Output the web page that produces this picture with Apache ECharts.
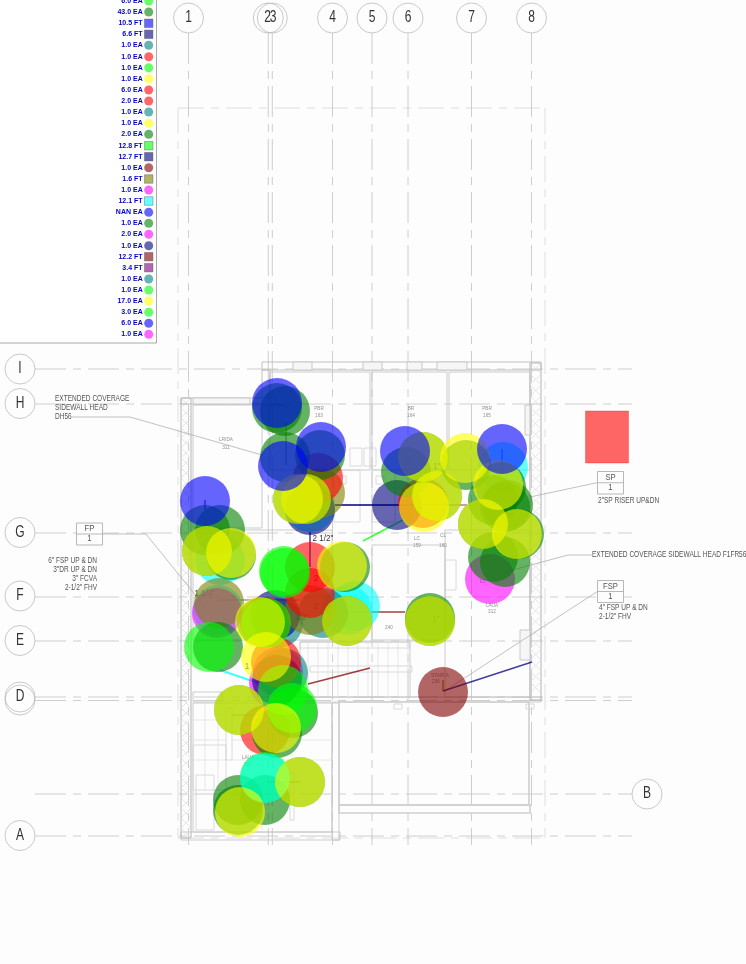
<!DOCTYPE html>
<html><head><meta charset="utf-8">
<style>html,body{margin:0;padding:0;background:#fdfdfd}#c{width:746px;height:964px}</style>
<script src="https://cdn.jsdelivr.net/npm/echarts@6/dist/echarts.min.js"></script>
</head><body><div id="c"></div>
<script>
// ---------- palette ----------
const G='#008000',L='#00ff00',B='#0000ff',N='#000080',T='#008080',R='#ff0000',Y='#ffff00',M='#ff00ff',C='#00ffff',O='#808000',W='#800000',P='#800080';
// ---------- takeoff legend ----------
const legendLabels=['6.0 EA','43.0 EA','10.5 FT','6.6 FT','1.0 EA','1.0 EA','1.0 EA','1.0 EA','6.0 EA','2.0 EA','1.0 EA','1.0 EA','2.0 EA','12.8 FT','12.7 FT','1.0 EA','1.6 FT','1.0 EA','12.1 FT','NAN EA','1.0 EA','2.0 EA','1.0 EA','12.2 FT','3.4 FT','1.0 EA','1.0 EA','17.0 EA','3.0 EA','6.0 EA','1.0 EA'];
const legendColors=[L,G,B,N,T,R,L,Y,R,R,T,Y,G,L,N,W,O,M,C,B,G,M,N,W,P,T,L,Y,L,B,M];
const legendShapes=['c','c','s','s','c','c','c','c','c','c','c','c','c','s','s','c','s','c','s','c','c','c','c','s','s','c','c','c','c','c','c'];
const legendY=[1,12,23.3,34.3,45.3,56.7,67.7,78.7,90,101,112,123.3,134.3,145.7,156.7,167.7,179,190,201,212.3,223.3,234.3,245.7,256.7,267.7,279,290,301,312.3,323.3,334.3];
// ---------- markups (bubbles), in drawing order ----------
const bubbleX=[
 310,503,220,218,347,355, 217,278,274,490, 278,323,283, 310,397,275,277, 310,219,320,
 310,310,265,276,265,423,318, 443,
 285,277,285,320,306,298,406,423,466,437,501,505,508,493,483,519,493,505,205,220,207,231,345,262,347,430,430,218,293,277,239,300,265,238,238,
 284,285,209,283,292,266,265, 265,
 298,306,423,465,437,424,498,483,517,207,231,342,260,347,430,266,239,276,300,240,
 277,321,283,405,502,205];
const bubbleY=[
 507,467,560,610,610,606, 613,672,683,579, 623,613,673, 510,505,615,680, 610,603,493,
 567,593,622,662,730,503,478, 692,
 411,408,457,455,499,499,472,457,465,496,487,507,505,500,524,534,557,562,530,530,551,555,567,622,621,618,621,647,713,733,710,782,800,800,810,
 571,573,647,690,708,623,777, 778,
 499,499,457,458,496,507,485,524,534,551,553,566,622,621,621,657,710,728,782,812,
 403,447,466,451,449,501];
const bubbleColors=[
 C,C,C,C,C,C, M,M,M,M, T,T,T, N,N,N,N, O,O,O,
 R,R,R,R,R,R,R, W,
 G,G,G,G,G,G,G,G,G,G,G,G,G,G,G,G,G,G,G,G,G,G,G,G,G,G,G,G,G,G,G,G,G,G,G,
 L,L,L,L,L,L,L, C,
 Y,Y,Y,Y,Y,Y,Y,Y,Y,Y,Y,Y,Y,Y,Y,Y,Y,Y,Y,Y,
 B,B,B,B,B,B];
const squareMark=[607,437,43,52];
// ---------- grid axes ----------
const colLabels=['1','2','3','','4','5','6','7','8'];
const colX=[188.5,268.3,272.3,270,332.5,372,408,471.5,531.5];
const colTextX=[188.5,267.5,273,270,332.5,372,408,471.5,531.5];
const rowLabels=['I','H','G','F','E','D','','A','B'];
const rowX=[20,20,20,20,20,20,20,20,647];
const rowY=[369,403.5,532.5,596,640.5,697,700,835.5,794];
// ---------- drawing segments: x1,y1,x2,y2 ----------
const outerDashed=[[178,108,545,108],[178,108,178,838],[545,108,545,838],[178,838,545,838]];
const gridSegs=[[35,794,632,794],[35,369,632,369],[35,404,632,404],[35,533,632,533],[35,597,632,597],[35,641,632,641],[35,697,632,697],[35,700.5,632,700.5],[35,836,632,836],
 [188.5,33,188.5,845],[268.3,33,268.3,845],[272.3,33,272.3,845],[332.5,33,332.5,845],[372,33,372,845],[408,33,408,845],[471.5,33,471.5,845],[531.5,33,531.5,845]];
const leaderSegs=[[72,417,130,417],[130,417,262,455],[85,534,146,534],[146,534,205,607],[597,482.7,530,497],[592,555,568,555],[568,555,505,572],[597,591.7,443,692]];
const wallBands=[[181,398,191,838],[530,363,541,700]];
const wallRects=[[262,362,541,370],[181,398,262,404],[262,370,270,398]];
const windowRects=[[293,362,312,370],[363,362,382,370],[407,362,422,370],[437,362,467,370],[193,398,250,404],[525,405,530,435],[520,630,530,660]];
const thinRects=[[193,405,262,528],[270,372,370,470],[372,372,447,470],[449,372,530,470],[193,530,332,640],[372,545,445,640],[445,530,530,697],[300,642,410,697],
 [193,703,332,832],[181,832,340,840],[332,703,339,840],[262,697,541,702],[193,692,222,702]];
const porchRects=[[339,702,529,805],[339,805,530,813]];
const fixtureRects=[[339,476,346,484],[376,476,384,484],[350,448,362,466],[364,448,376,466],[394,704,402,709],[526,704,534,709],[196,775,214,830],[193,745,226,790],[445,560,456,590],
 [300,642,410,648],[310,666,412,672],[226,708,232,760],[290,772,294,820],[334,470,360,522],[372,470,395,522]];
const stairSegs=[[308,642,308,697],[318,642,318,697],[328,642,328,697],[338,642,338,697],[348,642,348,697],[358,642,358,697],[368,642,368,697],[378,642,378,697],[388,642,388,697],[398,642,398,697],[408,642,408,697],
 [193,720,226,720],[193,740,226,740],[193,760,226,760],[205,703,205,790],[218,703,218,790],[232,760,332,760],[232,740,332,740],[262,703,262,830]];
const pipeSegs=[[335,505,400,505,N,1.8],[400,505,467,505,W,1.2],[363,541,403,520,L,1.6],[310,532,310,567,N,1.5],[372,612,405,612,W,1.6],[308,684,370,668,W,1.6],[220,670,258,683,C,2],[443,691,532,662,N,1.6],[443,680,443,691,O,1.5],[502,449,502,470,N,1.2],[205,500,205,510,N,1.2],[320,612,372,612,O,1.2],[232,715,262,715,O,1],[300,782,268,782,O,1.2],[219,600,300,600,N,.8],[270,405,285,405,N,.8],[286,422,286,465,G,1]];
// ---------- annotations ----------
const noteTexts=['EXTENDED COVERAGE','SIDEWALL HEAD','DH56','6" FSP UP & DN','3"DR UP & DN','3" FCVA','2-1/2" FHV','2"SP RISER UP&DN','EXTENDED COVERAGE SIDEWALL HEAD F1FR56','4" FSP UP & DN','2-1/2" FHV'];
const noteX=[55,55,55,97,97,97,97,598,592,599,599];
const noteY=[399,408,417,561,570,579,588,501,555,608,617];
const noteAlign=['left','left','left','right','right','right','right','left','left','left','left'];
const tagTexts=['FP','1','SP','1','FSP','1'];
const tagX=[89.5,89.5,610.5,610.5,610.5,610.5];
const tagY=[529,539,477.5,487.5,586.5,596.5];
const tagBoxes=[[76.5,523,102.5,545],[597.5,471.5,623.5,494],[597.5,580.5,623.5,602.5]];
const sizeTexts=['2 1/2"','1 1/4"','2','2','1','1"','1"','1/2"'];
const sizeX=[323,205,316,316,247,436,437,302];
const sizeY=[538,593,578,606,666,619,466,617];
const roomTexts=['LR/DA','311','PBR','163','BR','164','PBR','165','LC','159','CL','160','STAIR A','236','LAUA','312','LAUA','310','240','EC'];
const roomX=[226,226,319,319,411,411,487,487,417,417,443,443,440,436,492,492,248,248,389,483];
const roomY=[439,447,408,415,408,415,408,415,538,545,535,545,675,681,605,611,757,764,627,581];

const FONT='Liberation Sans, sans-serif';
function segSeries(data,color,width,dash,z,name){return {type:'custom',name,coordinateSystem:'cartesian2d',silent:true,z,
 encode:{x:[0,2],y:[1,3]},data,clip:false,
 renderItem:(p,api)=>{const a=api.coord([api.value(0),api.value(1)]),b=api.coord([api.value(2),api.value(3)]);
  return {type:'line',shape:{x1:a[0],y1:a[1],x2:b[0],y2:b[1]},style:{stroke:color,lineWidth:width,lineDash:dash||null,fill:null}};}};}
function rectSeries(data,stroke,width,fill,z,name){return {type:'custom',name,coordinateSystem:'cartesian2d',silent:true,z,
 encode:{x:[0,2],y:[1,3]},data,clip:false,
 renderItem:(p,api)=>{const a=api.coord([api.value(0),api.value(1)]),b=api.coord([api.value(2),api.value(3)]);
  return {type:'rect',shape:{x:a[0],y:a[1],width:b[0]-a[0],height:b[1]-a[1]},style:{stroke,lineWidth:width,fill:fill||'rgba(0,0,0,0)'}};}};}
function bandSeries(data){return {type:'custom',name:'walls',coordinateSystem:'cartesian2d',silent:true,z:3,
 encode:{x:[0,2],y:[1,3]},data,clip:false,
 renderItem:(p,api)=>{const a=api.coord([api.value(0),api.value(1)]),b=api.coord([api.value(2),api.value(3)]);
  const w=b[0]-a[0],h=b[1]-a[1],kids=[{type:'rect',shape:{x:a[0],y:a[1],width:w,height:h},style:{stroke:'#b4b4b4',lineWidth:1,fill:'rgba(0,0,0,0)'}}];
  for(let s=0;s+w<=h;s+=w){ // wall insulation hatch
    const y0=a[1]+s;
    kids.push({type:'line',shape:{x1:a[0],y1:y0,x2:a[0]+w,y2:y0+w},style:{stroke:'#d6d6d6',lineWidth:.6}});
    kids.push({type:'line',shape:{x1:a[0]+w,y1:y0,x2:a[0],y2:y0+w},style:{stroke:'#d6d6d6',lineWidth:.6}});
  }
  return {type:'group',children:kids};}};}
function textSeries(xs,ys,texts,size,color,aligns,z,name,scale,weight){return {type:'custom',name,coordinateSystem:'cartesian2d',silent:true,z,clip:false,
 encode:{x:0,y:1},data:texts.map((t,i)=>[xs[i],ys[i]]),
 renderItem:(p,api)=>{const a=api.coord([api.value(0),api.value(1)]),i=p.dataIndex;
  return {type:'text',x:a[0],y:a[1],scaleX:scale||1,style:{text:texts[i],x:0,y:0,textAlign:aligns?aligns[i]:'center',textVerticalAlign:'middle',fontFamily:FONT,fontSize:size,fontWeight:weight||'normal',fill:color}};}};}
const gridCircle=(xs,ys,name)=>({type:'scatter',name,silent:true,z:4,symbolSize:30,clip:false,itemStyle:{color:'rgba(0,0,0,0)',borderColor:'#b4b4b4',borderWidth:.9},data:xs.map((x,i)=>[x,ys[i]])});

const option={animation:false,backgroundColor:'#fdfdfd',
 grid:{left:0,right:0,top:0,bottom:0},
 xAxis:{type:'value',min:0,max:746,show:false},
 yAxis:{type:'value',min:0,max:964,inverse:true,show:false},
 series:[
  segSeries(outerDashed,'#d6d6d6',.8,[26,7,8,7],1,'outline'),
  segSeries(gridSegs,'#c2c2c2',.8,[31,7,8,7],1,'gridlines'),
  rectSeries(thinRects,'#c6c6c6',.9,null,2,'rooms'),
  rectSeries(porchRects,'#cfcfcf',1.6,null,2,'porch'),
  rectSeries(fixtureRects,'#d0d0d0',.8,null,2,'fixtures'),
  segSeries(stairSegs,'#dcdcdc',.7,null,2,'stairs'),
  bandSeries(wallBands),
  rectSeries(wallRects,'#c0c0c0',1,null,3,'wall rects'),
  rectSeries(windowRects,'#c4c4c4',.9,'#f6f6f6',3,'windows'),
  segSeries(leaderSegs,'#a8a8a8',.7,null,3,'leaders'),
  gridCircle(rowX,rowY,'rows'),gridCircle(colX.slice(0,3).concat(colX.slice(4)),colX.slice(0,3).concat(colX.slice(4)).map(()=>18),'columns'),
  textSeries(colTextX,colX.map(()=>18),colLabels,16,'#333',null,5,'col text',.75),
  textSeries(rowX,rowY,rowLabels,16,'#333',null,5,'row text',.75),
  rectSeries(tagBoxes,'#b0b0b0',.9,'#fdfdfd',4,'tags'),
  {type:'custom',name:'tagrules',coordinateSystem:'cartesian2d',silent:true,z:4,data:tagBoxes,encode:{x:[0,2],y:[1,3]},
   renderItem:(p,api)=>{const a=api.coord([api.value(0),(api.value(1)+api.value(3))/2]),b=api.coord([api.value(2),0]);
    return {type:'line',shape:{x1:a[0],y1:a[1],x2:b[0],y2:a[1]},style:{stroke:'#b0b0b0',lineWidth:.9}};}},
  textSeries(roomX,roomY,roomTexts,5.5,'#909090',null,4,'rooms text',.85),
  textSeries(noteX,noteY,noteTexts,8.6,'#555',noteAlign,5,'notes',.76),
  textSeries(tagX,tagY,tagTexts,9,'#555',null,5,'tag text',.85),
  textSeries(sizeX,sizeY,sizeTexts,9.5,'#333',null,5,'sizes',.85),
  {type:'custom',name:'pipes',coordinateSystem:'cartesian2d',silent:true,z:6,encode:{x:[0,2],y:[1,3]},clip:false,data:pipeSegs.map(s=>s.slice(0,4)),
   renderItem:(p,api)=>{const s=pipeSegs[p.dataIndex],a=api.coord([s[0],s[1]]),b=api.coord([s[2],s[3]]);
    return {type:'line',shape:{x1:a[0],y1:a[1],x2:b[0],y2:b[1]},style:{stroke:s[4],lineWidth:s[5],opacity:.75}};}},
  {type:'scatter',name:'markups',silent:true,z:7,symbol:'circle',symbolSize:50,clip:false,
   data:bubbleX.map((x,i)=>({value:[x,bubbleY[i]],itemStyle:{color:bubbleColors[i],opacity:.6}}))},
  rectSeries([[squareMark[0]-squareMark[2]/2,squareMark[1]-squareMark[3]/2,squareMark[0]+squareMark[2]/2,squareMark[1]+squareMark[3]/2]],'rgba(255,0,0,.3)',1,'rgba(255,0,0,.6)',7,'area mark'),
  rectSeries([[-2,-2,156.5,343]],'#a9a9a9',1,'#ffffff',8,'legend panel'),
  {type:'scatter',name:'legend',silent:true,z:9,clip:false,
   data:legendLabels.map((t,i)=>{const sq=legendShapes[i]=='s';return {value:[148.7,legendY[i]],symbol:sq?'rect':'circle',symbolSize:sq?8.5:9,
    itemStyle:{color:legendColors[i],opacity:.6,borderColor:sq?'#555':'transparent',borderWidth:sq?.7:0},
    label:{show:true,position:'left',distance:1.5,formatter:t,fontFamily:FONT,fontWeight:'bold',fontSize:7,color:'#0000cc',opacity:1}};})}
 ]};
echarts.init(document.getElementById('c'),null,{renderer:'canvas'}).setOption(option);
</script></body></html>
